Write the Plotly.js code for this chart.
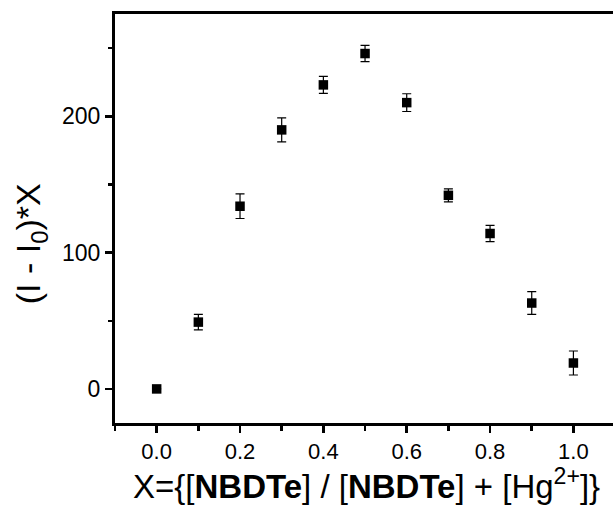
<!DOCTYPE html>
<html>
<head>
<meta charset="utf-8">
<script src="https://cdn.plot.ly/plotly-3.0.1.min.js"></script>
<style>html,body{margin:0;padding:0;background:#fff;}#chart{width:613px;height:506px;}</style>
</head>
<body>
<div id="chart"></div>
<script>
const xValues = [0.0, 0.1, 0.2, 0.3, 0.4, 0.5, 0.6, 0.7, 0.8, 0.9, 1.0];
const yValues = [0, 49, 134, 190, 223, 246, 210, 142, 114, 63, 19];
const yErrors = [0, 5.7, 9, 8.8, 6.2, 6, 6.5, 4.8, 6, 8.3, 8.8];
const xTickVals = [0.0, 0.2, 0.4, 0.6, 0.8, 1.0];
const xTickText = ["0.0", "0.2", "0.4", "0.6", "0.8", "1.0"];
const yTickVals = [0, 100, 200];
const yTickText = ["0", "100", "200"];

const font = "Liberation Sans, Arial, sans-serif";

const trace = {
  x: xValues, y: yValues, type: 'scatter', mode: 'markers',
  marker: {symbol: 'square', size: 9.5, color: '#000'},
  error_y: {type: 'data', array: yErrors, visible: true, color: '#000', thickness: 1.2, width: 4.5},
  showlegend: false, hoverinfo: 'none'
};

const layout = {
  width: 613, height: 506,
  margin: {l: 115, r: 0, t: 14, b: 83, pad: 0},
  paper_bgcolor: '#fff', plot_bgcolor: '#fff',
  font: {family: font, color: '#000'},
  xaxis: {
    range: [-0.1, 1.095], showgrid: false, zeroline: false,
    showline: true, linewidth: 3, linecolor: '#000', mirror: true,
    ticks: 'outside', ticklen: 7, tickwidth: 2.5, tickcolor: '#000',
    tickvals: xTickVals, ticktext: xTickText,
    tickfont: {size: 22, family: font, color: '#000'},
    minor: {dtick: 0.1, tick0: -0.1, ticks: 'outside', ticklen: 5, tickwidth: 2.5, tickcolor: '#000'}
  },
  yaxis: {
    range: [-25, 275], showgrid: false, zeroline: false,
    showline: true, linewidth: 3, linecolor: '#000', mirror: false,
    ticks: 'outside', ticklen: 7, tickwidth: 2.5, tickcolor: '#000',
    tickvals: yTickVals, ticktext: yTickText,
    tickfont: {size: 23, family: font, color: '#000'},
    minor: {dtick: 50, tick0: 0, ticks: 'outside', ticklen: 4, tickwidth: 2.5, tickcolor: '#000'}
  },
  annotations: [{
    text: '(I - I<sub>0</sub>)*X', xref: 'paper', yref: 'paper',
    x: -0.169, y: 0.439, xanchor: 'center', yanchor: 'middle',
    textangle: -90, showarrow: false,
    font: {size: 34, family: font, color: '#000'}
  }, {
    text: 'X={[<b>NBDTe</b>] / [<b>NBDTe</b>] + [Hg<sup>2+</sup>]}', xref: 'paper', yref: 'paper',
    x: 0.506, y: -0.149, xanchor: 'center', yanchor: 'middle',
    showarrow: false,
    font: {size: 33, family: font, color: '#000'}
  }]
};

Plotly.newPlot('chart', [trace], layout, {staticPlot: true, displayModeBar: false});
</script>
</body>
</html>
